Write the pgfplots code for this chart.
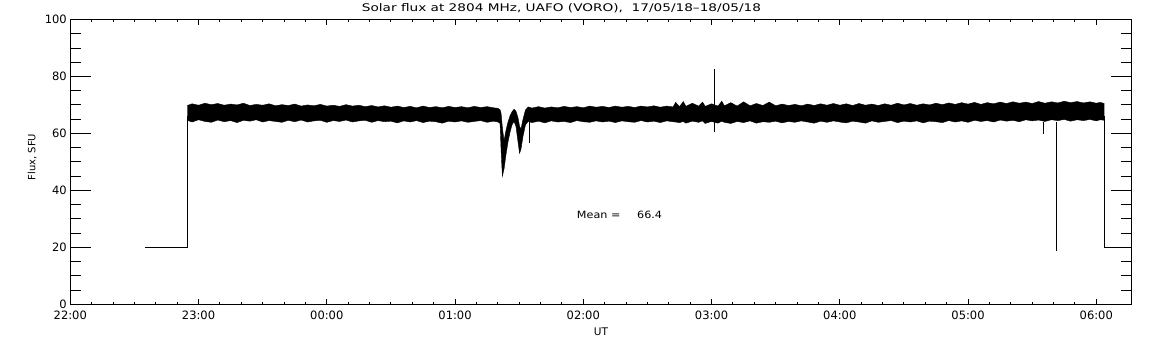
\documentclass[border=0pt]{standalone}
\usepackage{fontspec}
\setmainfont{DejaVu Sans}
\newfontfamily\titlefont[FakeStretch=1.3]{DejaVu Sans}
\newfontfamily\meanfont[FakeStretch=1.12]{DejaVu Sans}
\usepackage{pgfplots}
\usepackage{pgfplotstable}
\pgfplotsset{compat=1.18}
\usepgfplotslibrary{fillbetween}

\pgfplotstableread{
x hi lo
0.912 69.8 64.6
0.95 70.4 64.0
1.00 69.9 64.8
1.05 70.6 64.2
1.10 70.1 63.9
1.15 70.5 64.7
1.20 69.9 64.1
1.25 70.3 64.5
1.30 70.0 63.8
1.35 70.6 64.6
1.40 69.8 64.3
1.45 70.2 64.8
1.50 69.9 64.0
1.55 70.4 64.5
1.60 69.7 64.2
1.65 70.1 63.9
1.70 69.8 64.6
1.75 70.3 64.1
1.80 69.6 64.7
1.85 70.0 64.0
1.90 69.7 64.4
1.95 70.2 64.6
2.00 69.6 63.9
2.05 69.9 64.5
2.10 69.5 64.2
2.15 70.1 64.7
2.20 69.6 64.0
2.25 69.9 64.4
2.30 69.4 64.6
2.35 69.8 63.9
2.40 69.3 64.5
2.45 69.7 64.1
2.50 69.2 64.3
2.55 69.6 63.7
2.60 69.1 64.4
2.65 69.5 64.0
2.70 69.0 64.5
2.75 69.6 63.8
2.80 69.1 64.3
2.85 69.4 64.1
2.90 69.0 63.6
2.95 69.5 64.3
3.00 69.1 64.0
3.05 69.4 64.4
3.10 69.0 63.9
3.15 69.5 64.2
3.20 69.1 64.5
3.25 69.4 63.9
3.30 69.0 64.3
3.335 68.8 64.0
3.351 68.3 63.5
3.359 67.0 54.0
3.369 62.0 45.0
3.382 57.5 47.5
3.397 61.0 52.5
3.413 64.0 57.0
3.429 66.2 60.5
3.444 67.6 63.0
3.460 68.5 64.2
3.475 67.8 62.5
3.491 65.5 57.0
3.503 62.5 53.0
3.514 61.5 54.5
3.530 65.0 59.0
3.549 68.2 63.0
3.57 69.3 64.2
3.60 68.9 63.8
3.65 69.4 64.3
3.70 68.9 63.7
3.75 69.3 64.4
3.80 69.0 64.0
3.85 69.5 64.2
3.90 69.1 63.8
3.95 69.4 64.5
4.00 69.0 64.1
4.05 69.6 63.9
4.10 69.2 64.4
4.15 69.5 64.0
4.20 69.1 64.3
4.25 69.6 63.8
4.30 69.2 64.4
4.35 69.5 64.1
4.40 69.1 63.9
4.45 69.6 64.5
4.50 69.3 64.0
4.55 69.7 64.3
4.60 69.2 63.8
4.65 69.6 64.4
4.70 69.3 64.1
4.72 70.9 64.0
4.75 69.4 63.8
4.78 71.2 64.2
4.80 69.5 63.6
4.85 70.6 64.3
4.90 69.6 63.9
4.93 71.0 64.4
4.95 69.5 63.5
5.00 70.4 64.2
5.05 69.6 63.6
5.08 71.3 64.3
5.10 69.7 63.9
5.15 70.8 63.5
5.20 69.6 64.2
5.25 71.1 63.8
5.30 69.7 64.4
5.35 70.5 63.6
5.40 69.8 64.1
5.45 71.0 63.9
5.50 69.7 64.3
5.55 70.3 63.7
5.60 69.8 64.2
5.65 70.2 63.9
5.70 69.7 64.4
5.75 70.3 64.0
5.80 69.8 63.6
5.85 70.4 64.3
5.90 69.9 63.9
5.95 70.5 64.4
6.00 69.9 64.0
6.05 70.4 63.7
6.10 69.8 64.3
6.15 70.5 64.0
6.20 69.9 63.6
6.25 70.3 64.4
6.30 69.8 63.9
6.35 70.4 64.2
6.40 69.9 64.5
6.45 70.6 63.8
6.50 70.0 64.3
6.55 70.5 64.0
6.60 69.9 64.4
6.65 70.4 63.7
6.70 70.0 64.3
6.75 70.6 64.1
6.80 70.1 63.8
6.85 70.7 64.5
6.90 70.2 64.0
6.95 70.8 64.4
7.00 70.3 63.9
7.05 70.9 64.6
7.10 70.2 64.2
7.15 70.8 64.5
7.20 70.4 64.0
7.25 71.0 64.7
7.30 70.5 64.3
7.35 71.1 64.6
7.40 70.6 64.1
7.45 71.0 64.8
7.50 70.5 64.4
7.55 71.2 64.7
7.60 70.6 64.2
7.65 71.1 64.8
7.70 70.7 64.5
7.75 71.3 64.9
7.80 70.8 64.3
7.85 71.2 64.8
7.90 70.7 64.5
7.95 71.1 64.9
8.00 70.6 64.4
8.03 70.9 64.8
8.062 70.5 64.6
}\band

\begin{document}
\begin{tikzpicture}
\begin{axis}[
  scale only axis,
  width=1061.4pt, height=284.8pt,
  xmin=0, xmax=8.276, ymin=0, ymax=100,
  xtick={0,1,2,3,4,5,6,7,8},
  xticklabels={22:00,23:00,00:00,01:00,02:00,03:00,04:00,05:00,06:00},
  minor x tick num=5,
  ytick={0,20,40,60,80,100},
  minor y tick num=3,
  tick align=inside,
  xtick style={/pgfplots/major tick length=5.3pt,/pgfplots/minor tick length=2.7pt},
  ytick style={/pgfplots/major tick length=20.3pt,/pgfplots/minor tick length=10.7pt},
  axis line style={line width=0.9pt},
  tick style={line width=0.9pt, black},
  /pgf/number format/assume math mode=true,
  ticklabel style={font=\fontsize{11.5}{13}\selectfont},
  xticklabel style={yshift=-3pt},
]
\addplot[name path=hi, black, line width=0.4pt] table[x=x, y=hi] {\band};
\addplot[name path=lo, black, line width=0.4pt] table[x=x, y=lo] {\band};
\addplot[black] fill between[of=hi and lo];
\addplot[black, line width=0.9pt] coordinates {(0.585,20) (0.912,20) (0.912,66)};
\addplot[black, line width=0.9pt] coordinates {(8.062,66) (8.062,20) (8.276,20)};
\addplot[black, line width=0.9pt] coordinates {(3.577,64) (3.577,56.6)};
\addplot[black, line width=0.9pt] coordinates {(5.023,60.6) (5.023,82.6)};
\addplot[black, line width=0.9pt] coordinates {(7.587,64) (7.587,59.7)};
\addplot[black, line width=0.9pt] coordinates {(7.690,64) (7.690,18.8)};
\node[anchor=base west, inner sep=0pt, font=\meanfont\fontsize{10}{12}\selectfont] at (axis cs:3.949,30) {Mean =};
\node[anchor=base east, inner sep=0pt, font=\meanfont\fontsize{10}{12}\selectfont] at (axis cs:4.616,30) {66.4};
\end{axis}
\path (-70.3pt,-40.7pt) rectangle (1081.7pt,304.3pt);
\node[anchor=base, inner sep=0pt, font=\titlefont\fontsize{10.5}{12}\selectfont] at (491.2pt,292.6pt) {Solar flux at 2804 MHz, UAFO (VORO),\ \ 17/05/18–18/05/18};
\node[anchor=base, inner sep=0pt, font=\fontsize{10.5}{12}\selectfont] at (530.7pt,-31.7pt) {UT};
\node[anchor=base, rotate=90, inner sep=0pt, font=\fontsize{10}{12}\selectfont] at (-34.8pt,147.3pt) {Flux, SFU};
\end{tikzpicture}
\end{document}
